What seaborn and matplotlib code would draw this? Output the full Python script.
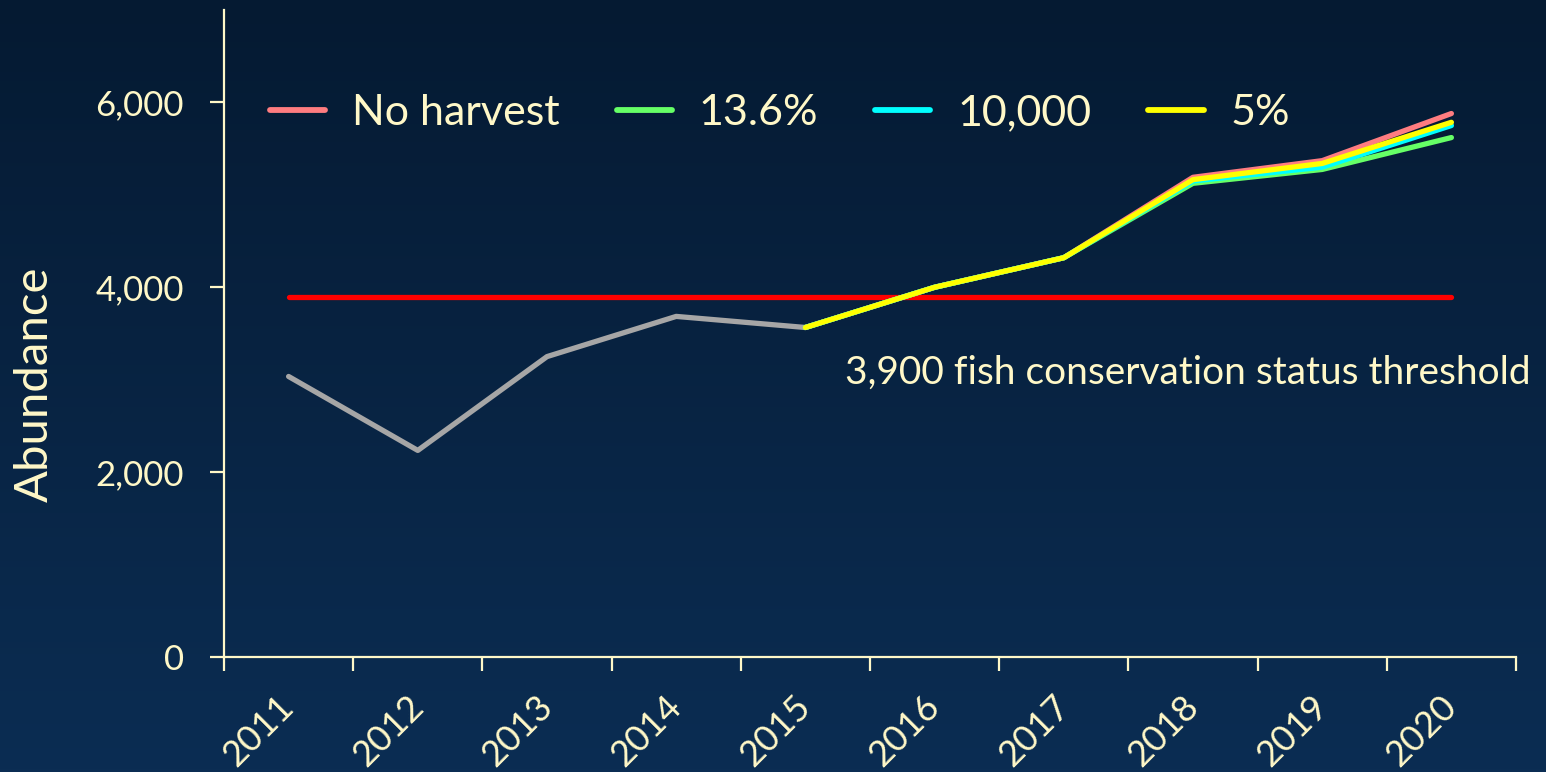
import numpy as np
import pandas as pd
import seaborn as sns
import matplotlib
matplotlib.use("Agg")
import matplotlib.pyplot as plt
from matplotlib.colors import LinearSegmentedColormap
from matplotlib.ticker import FixedLocator, FuncFormatter

# ---- data -------------------------------------------------------------
years = ["2011", "2012", "2013", "2014", "2015",
         "2016", "2017", "2018", "2019", "2020"]
observed_years = years[:5]
observed = [3035, 2235, 3250, 3685, 3565]

projection_years = years[4:]
no_harvest = [3565, 4000, 4320, 5190, 5370, 5880]
harvest_13_6 = [3565, 4000, 4320, 5125, 5275, 5620]
harvest_10000 = [3565, 4000, 4320, 5150, 5300, 5750]
harvest_5 = [3565, 4000, 4320, 5165, 5340, 5785]

threshold = 3900
threshold_label = "3,900 fish conservation status threshold"
y_ticks = [0, 2000, 4000, 6000]

series_names = ["No harvest", "13.6%", "10,000", "5%"]
series_values = [no_harvest, harvest_13_6, harvest_10000, harvest_5]
series_colors = ["#ff7c80", "#66ff66", "#00ffff", "#ffff00"]

# ---- style ------------------------------------------------------------
sns.set_theme(style="white")
TEXT = "#fff8c8"
plt.rcParams["font.family"] = ["Lato", "DejaVu Sans"]

W, H = 1546, 772
fig = plt.figure(figsize=(W / 100, H / 100), dpi=100)

# vertical navy gradient behind everything
bg = fig.add_axes([0, 0, 1, 1], zorder=-10)
grad = np.linspace(0, 1, 256).reshape(-1, 1)
cmap = LinearSegmentedColormap.from_list("navy", ["#051a32", "#0b2d53"])
bg.imshow(grad, aspect="auto", cmap=cmap, extent=[0, 1, 0, 1], origin="upper")
bg.set_axis_off()

ax = fig.add_axes([224 / W, 1 - 657 / H, (1516 - 224) / W, (657 - 10) / H])
ax.patch.set_alpha(0)

pos = {y: i for i, y in enumerate(years)}

# threshold line across all years
thr_df = pd.DataFrame({"x": [pos[y] for y in years], "v": [threshold] * len(years)})
sns.lineplot(data=thr_df, x="x", y="v", ax=ax, color="#ff0000", lw=3.8,
             solid_capstyle="round", legend=False, zorder=2)

# observed abundance
obs_df = pd.DataFrame({"x": [pos[y] for y in observed_years], "v": observed})
sns.lineplot(data=obs_df, x="x", y="v", ax=ax, color="#a6a6a6", lw=3.8,
             solid_capstyle="round", legend=False, zorder=3)

# projected scenarios
proj_df = pd.concat([
    pd.DataFrame({"x": [pos[y] for y in projection_years], "v": vals, "scenario": name})
    for name, vals in zip(series_names, series_values)
], ignore_index=True)
sns.lineplot(data=proj_df, x="x", y="v", hue="scenario", hue_order=series_names,
             palette=dict(zip(series_names, series_colors)), ax=ax, lw=3.8,
             solid_capstyle="round", zorder=4)

# ---- axes -------------------------------------------------------------
ax.set_xlim(-0.5, len(years) - 0.5)
ax.set_ylim(0, 7000)
for s in ["top", "right"]:
    ax.spines[s].set_visible(False)
for s in ["left", "bottom"]:
    ax.spines[s].set_color(TEXT)
    ax.spines[s].set_linewidth(1.6)

ax.yaxis.set_major_locator(FixedLocator(y_ticks))
ax.yaxis.set_major_formatter(FuncFormatter(lambda v, p: f"{int(v):,}"))
ax.tick_params(axis="y", direction="out", length=10, width=1.6, color=TEXT,
               labelcolor=TEXT, labelsize=25, pad=19, left=True)

ax.set_xticks(range(len(years)))
ax.set_xticks(np.arange(-0.5, len(years)), minor=True)
ax.set_xticklabels(years, rotation=45, ha="right", va="center",
                   rotation_mode="anchor")
ax.tick_params(axis="x", which="major", length=0, labelcolor=TEXT,
               labelsize=26, pad=32)
ax.tick_params(axis="x", which="minor", direction="out", length=10,
               width=1.6, color=TEXT, bottom=True)

ax.set_xlabel("")
ax.set_ylabel("Abundance", color=TEXT, fontsize=34)
ax.yaxis.set_label_coords(-0.130, 0.422)

ax.text(4.31, 3075, threshold_label, color=TEXT, fontsize=28,
        ha="left", va="center", clip_on=False)

leg = ax.legend(loc="center left", bbox_to_anchor=(46 / 1292, (657 - 113) / 647),
                ncol=4, frameon=False, fontsize=31, handlelength=1.28,
                handletextpad=0.63, columnspacing=1.32, borderpad=0,
                borderaxespad=0)
for t in leg.get_texts():
    t.set_color(TEXT)
for h in leg.get_lines():
    h.set_linewidth(4.2)
    h.set_solid_capstyle("round")

fig.savefig("out.png", dpi=100)
